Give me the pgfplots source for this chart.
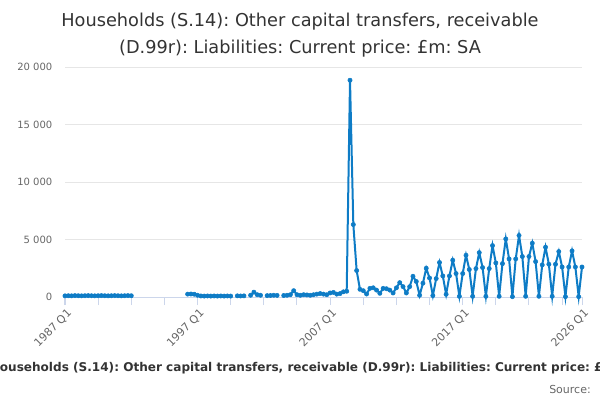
\documentclass[border=0pt]{standalone}
\usepackage{pgfplots}
\pgfplotsset{compat=1.18}
\usepackage{fontspec}
\setmainfont{DejaVu Sans}
\definecolor{linec}{RGB}{14,124,198}
\definecolor{gridc}{RGB}{230,230,230}
\definecolor{axisc}{RGB}{204,214,235}
\definecolor{labelc}{RGB}{102,102,102}
\definecolor{titlec}{RGB}{51,51,51}
\frenchspacing
\begin{document}
\begin{tikzpicture}
\path[use as bounding box] (0,0) rectangle (450pt,300pt);
\begin{axis}[
  at={(48.75pt,77.25pt)}, anchor=south west,
  scale only axis, width=387.75pt, height=172.5pt,
  xmin=0, xmax=156, ymin=0, ymax=20000,
  clip=false, scaled y ticks=false,
  axis x line*=bottom, axis y line*=left,
  y axis line style={draw=none},
  x axis line style={draw=axisc, line width=0.75pt},
  ymajorgrids, grid style={draw=gridc, line width=0.75pt},
  ytick={0,5000,10000,15000,20000},
  yticklabels={0,5 000,10 000,15 000,20 000},
  ytick style={draw=none},
  yticklabel style={font=\fontsize{7.5}{8}\selectfont, color=labelc, xshift=0pt},
  xtick={0,10,20,30,40,50,60,70,80,90,100,110,120,130,140,150,156},
  xticklabels={1987 Q1,,,,1997 Q1,,,,2007 Q1,,,,2017 Q1,,,,2026 Q1},
  tick align=outside, major tick length=6pt,
  xtick style={draw=axisc, line width=0.75pt},
  xticklabel style={font=\fontsize{8.25}{9}\selectfont, color=labelc, rotate=45, anchor=east, xshift=2.5pt, yshift=-6pt},
  unbounded coords=jump,
]
\addplot[color=linec, line width=1.5pt, mark=*, mark size=1.6pt, mark options={fill=linec, draw=linec, line width=0.4pt}] coordinates {
(0,100)(1,110)(2,100)(3,120)(4,110)(5,100)(6,110)(7,120)(8,110)(9,100)(10,110)(11,120)(12,110)(13,100)(14,110)(15,120)(16,110)(17,100)(18,110)(19,120)(20,110)
(21,nan)
(37,250)(38,260)(39,240)(40,150)(41,90)(42,80)(43,90)(44,80)(45,90)(46,80)(47,90)(48,80)(49,90)(50,80)(51,nan)
(52,100)(53,90)(54,100)(55,nan)(56,150)(57,420)(58,200)(59,150)(60,nan)(61,120)(62,130)(63,150)(64,140)(65,nan)(66,130)(67,150)(68,200)(69,550)(70,200)(71,150)(72,200)(73,180)(74,150)(75,200)(76,250)(77,300)(78,250)(79,200)(80,350)(81,400)(82,250)(83,300)(84,450)(85,500)(86,18850)(87,6300)(88,2300)(89,670)(90,550)(91,260)(92,750)(93,800)(94,600)(95,320)(96,750)(97,720)(98,600)(99,350)(100,800)(101,1250)(102,900)(103,350)(104,900)(105,1800)(106,1350)(107,150)(108,1200)(109,2500)(110,1650)(111,120)(112,1600)(113,3000)(114,1830)(115,235)(116,1830)(117,3200)(118,2040)(119,60)(120,2040)(121,3630)(122,2390)(123,60)(124,2470)(125,3860)(126,2560)(127,60)(128,2470)(129,4470)(130,2960)(131,60)(132,2900)(133,5050)(134,3310)(135,30)(136,3310)(137,5350)(138,3520)(139,60)(140,3520)(141,4680)(142,3080)(143,60)(144,2790)(145,4330)(146,2850)(147,60)(148,2850)(149,3950)(150,2610)(151,30)(152,2610)(153,4010)(154,2610)(155,30)(156,2610)
};
\end{axis}
\node[align=center, text=titlec, font=\fontsize{13.3}{20}\selectfont] at (225pt,273.75pt) {Households (S.14): Other capital transfers, receivable\\(D.99r): Liabilities: Current price: £m: SA};
\node[text=titlec, font=\fontsize{9.05}{10}\bfseries] at (237pt,24pt) {Households (S.14): Other capital transfers, receivable (D.99r): Liabilities: Current price: £m: SA};
\node[anchor=east, text=labelc, font=\fontsize{8.25}{9}\selectfont, inner sep=0pt] at (443.25pt,8.25pt) {Source:};
\end{tikzpicture}
\end{document}
